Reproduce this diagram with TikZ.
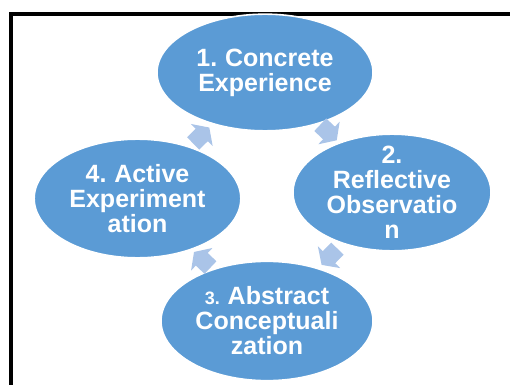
\documentclass[tikz,border=0pt]{standalone}
\usepackage{fontspec}
\setmainfont{Liberation Sans}
\usetikzlibrary{shapes.geometric,calc,arrows.meta}
\definecolor{ebl}{RGB}{91,155,213}
\definecolor{abl}{RGB}{170,196,232}
\newcommand\mytightspace{\spaceskip=0.22em plus 0.1em\relax}
\begin{document}
\begin{tikzpicture}[x=0.75pt,y=-0.75pt,
  bub/.style={ellipse, fill=ebl, draw=white, line width=1.2pt, inner sep=0pt},
  txt/.style={text=white, font=\fontsize{18.75pt}{18.75pt}\selectfont\bfseries\mytightspace, align=center, inner sep=0pt},
  cyc/.style={draw=abl, line width=13pt, -{Triangle[length=8pt,width=23pt]}}]
\useasboundingbox (0,0) rectangle (510,385);
\draw[line width=3pt] (11,386) -- (11,14) -- (511,14);
\node[bub, minimum width=162pt, minimum height=87.5pt] (e1) at (265,72.5) {};
\node[bub, minimum width=148.5pt, minimum height=87.5pt] (e2) at (392,192.5) {};
\node[bub, minimum width=159pt, minimum height=89.5pt] (e3) at (267,321) {};
\node[bub, minimum width=155pt, minimum height=89pt] (e4) at (137.5,198.5) {};
\node[txt] (t1) at (e1) {1. Concrete\\Experience};
\node[txt] (t2) at (e2) {2.\\Reflective\\Observatio\\n};
\node[txt] (t3) at (e3) {{\fontsize{13.5pt}{13.5pt}\selectfont 3.} Abstract\\Conceptuali\\zation};
\node[txt] (t4) at (e4) {4. Active\\Experiment\\ation};
\coordinate (m12) at ($(e1)!0.5!(e2)$);
\coordinate (m23) at ($(e2)!0.5!(e3)$);
\coordinate (m34) at ($(e3)!0.5!(e4)$);
\coordinate (m41) at ($(e4)!0.5!(e1)$);
\coordinate (s12) at ($(m12)!-8.5pt!(e2)$);
\coordinate (f12) at ($(m12)!8.5pt!(e2)$);
\coordinate (s23) at ($(m23)!-8.5pt!(e3)$);
\coordinate (f23) at ($(m23)!8.5pt!(e3)$);
\coordinate (s34) at ($(m34)!-8.5pt!(e4)$);
\coordinate (f34) at ($(m34)!8.5pt!(e4)$);
\coordinate (s41) at ($(m41)!-8.5pt!(e1)$);
\coordinate (f41) at ($(m41)!8.5pt!(e1)$);
\draw[cyc] (s12) -- (f12);
\draw[cyc] (s23) -- (f23);
\draw[cyc] (s34) -- (f34);
\draw[cyc] (s41) -- (f41);
\end{tikzpicture}
\end{document}
